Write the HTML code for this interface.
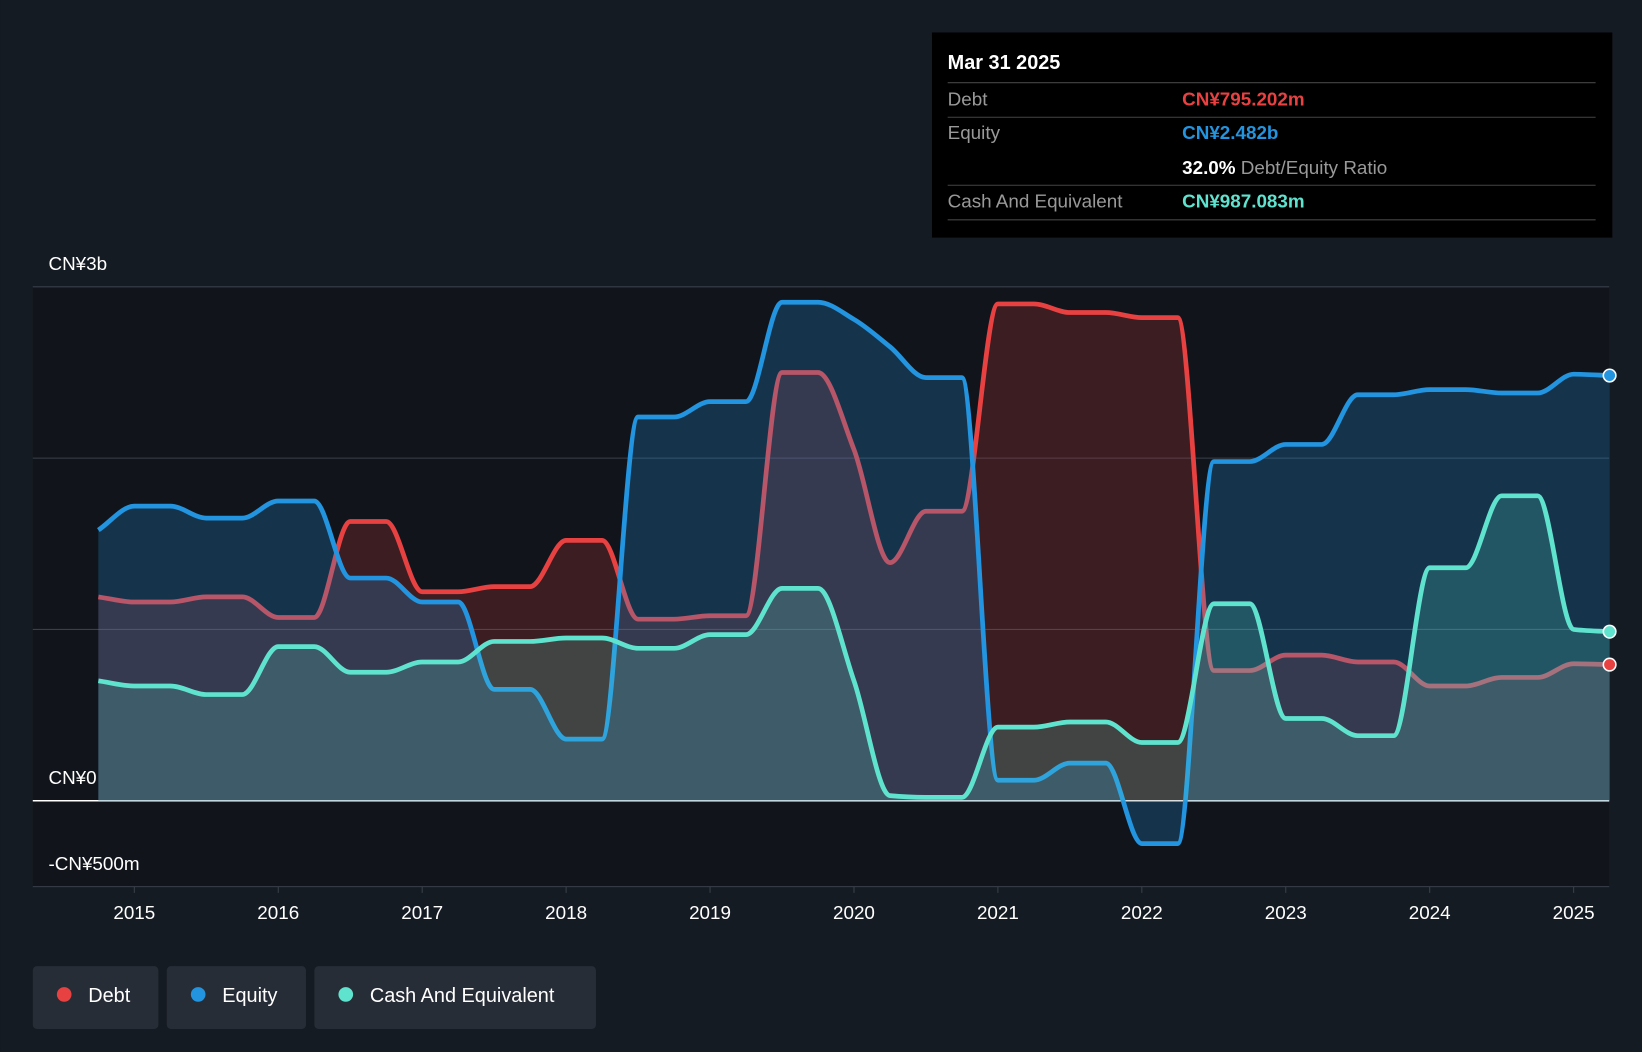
<!DOCTYPE html>
<html><head><meta charset="utf-8"><style>
html,body{margin:0;padding:0;background:#151b23;}
svg{display:block;font-family:"Liberation Sans",sans-serif;}
</style></head><body>
<svg id="chart" width="1642" height="1052" viewBox="0 0 1568 1005" xmlns="http://www.w3.org/2000/svg">
<rect x="0" y="0" width="1568" height="1005" fill="#151b23"/>
<rect x="31" y="274" width="1506" height="573" fill="#11151b"/>
<g id="grid"></g>
<g id="series"></g>
<g id="markers"></g>
<g id="xaxis"></g>
<text x="46" y="258" fill="#fff" font-size="18">CN¥3b</text>
<text x="46" y="749" fill="#fff" font-size="18">CN¥0</text>
<text x="46" y="831" fill="#fff" font-size="18">-CN¥500m</text>
<g>
<rect x="890" y="31" width="650" height="196" fill="#000"/>
<text x="905" y="66" fill="#fff" font-size="19" font-weight="bold">Mar 31 2025</text>
<line x1="905" y1="79" x2="1524" y2="79" stroke="#444"/>
<text x="905" y="101" fill="#999" font-size="18">Debt</text>
<text x="1129" y="101" fill="#e84142" font-size="18" font-weight="bold">CN¥795.202m</text>
<line x1="905" y1="112" x2="1524" y2="112" stroke="#444"/>
<text x="905" y="133" fill="#999" font-size="18">Equity</text>
<text x="1129" y="133" fill="#2394df" font-size="18" font-weight="bold">CN¥2.482b</text>
<text x="1129" y="166" fill="#fff" font-size="18" font-weight="bold">32.0% <tspan fill="#999" font-weight="normal">Debt/Equity Ratio</tspan></text>
<line x1="905" y1="177" x2="1524" y2="177" stroke="#444"/>
<text x="905" y="198" fill="#999" font-size="18">Cash And Equivalent</text>
<text x="1129" y="198" fill="#5fe3cf" font-size="18" font-weight="bold">CN¥987.083m</text>
<line x1="905" y1="210" x2="1524" y2="210" stroke="#444"/>
</g>
<g>
<g><rect x="31" y="923" width="120" height="60" rx="4" fill="#272d36"/><circle cx="61" cy="950" r="7" fill="#e84142"/><text x="84" y="957" fill="#fff" font-size="19">Debt</text></g>
<g><rect x="159" y="923" width="133" height="60" rx="4" fill="#272d36"/><circle cx="189" cy="950" r="7" fill="#2394df"/><text x="212" y="957" fill="#fff" font-size="19">Equity</text></g>
<g><rect x="300" y="923" width="269" height="60" rx="4" fill="#272d36"/><circle cx="330" cy="950" r="7" fill="#5fe3cf"/><text x="353" y="957" fill="#fff" font-size="19">Cash And Equivalent</text></g>
</g>
</svg>
<script>
const startYear = 2014.75;
const debt = [1.19,1.16,1.16,1.19,1.19,1.07,1.07,1.63,1.63,1.22,1.22,1.25,1.25,1.52,1.52,1.06,1.06,1.08,1.08,2.50,2.50,2.05,1.39,1.69,1.69,2.90,2.90,2.85,2.85,2.82,2.82,0.76,0.76,0.85,0.85,0.81,0.81,0.67,0.67,0.72,0.72,0.80,0.795];
const equity = [1.58,1.72,1.72,1.65,1.65,1.75,1.75,1.30,1.30,1.16,1.16,0.65,0.65,0.36,0.36,2.24,2.24,2.33,2.33,2.91,2.91,2.81,2.65,2.47,2.47,0.12,0.12,0.22,0.22,-0.25,-0.25,1.98,1.98,2.08,2.08,2.37,2.37,2.40,2.40,2.38,2.38,2.49,2.482];
const cash = [0.70,0.67,0.67,0.62,0.62,0.90,0.90,0.75,0.75,0.81,0.81,0.93,0.93,0.95,0.95,0.89,0.89,0.97,0.97,1.24,1.24,0.70,0.03,0.02,0.02,0.43,0.43,0.46,0.46,0.34,0.34,1.15,1.15,0.48,0.48,0.38,0.38,1.36,1.36,1.78,1.78,1.00,0.987];
const yearTicks = [2015,2016,2017,2018,2019,2020,2021,2022,2023,2024,2025];
const gridVals = [3,2,1];
const NS="http://www.w3.org/2000/svg";
function X(t){return 128+(t-2015)*137.5;}
function Y(v){return 765-v*163.67;}
function mk(tag,attrs,parent){const e=document.createElementNS(NS,tag);for(const k in attrs)e.setAttribute(k,attrs[k]);parent.appendChild(e);return e;}
const grid=document.getElementById('grid');
gridVals.forEach(v=>{const l=mk('line',{x1:31,x2:1537,y1:Y(v),y2:Y(v),stroke:'#39404a','stroke-width':1},grid);

});
const zl=mk('line',{x1:31,x2:1537,y1:Y(0),y2:Y(0),stroke:'#fff','stroke-width':1.5},grid);


const bl=mk('line',{x1:31,x2:1537,y1:847,y2:847,stroke:'#39404a'},grid);


const xa=document.getElementById('xaxis');
yearTicks.forEach(yr=>{mk('line',{x1:X(yr),x2:X(yr),y1:847,y2:853,stroke:'#39404a'},xa);
const t=mk('text',{x:X(yr),y:878,fill:'#fff','font-size':18,'text-anchor':'middle'},xa);t.textContent=yr;

});
function monoPath(pts){
  const n=pts.length,d=[],m=[];
  for(let i=0;i<n-1;i++)d.push((pts[i+1][1]-pts[i][1])/(pts[i+1][0]-pts[i][0]));
  for(let i=0;i<n;i++){
    if(i===0)m.push(d[0]);else if(i===n-1)m.push(d[n-2]);
    else m.push(d[i-1]*d[i]<=0?0:(2*d[i-1]*d[i])/(d[i-1]+d[i]));
  }
  let s='M'+pts[0][0]+','+pts[0][1];
  for(let i=0;i<n-1;i++){const h=(pts[i+1][0]-pts[i][0])/3;
    s+=' C'+(pts[i][0]+h)+','+(pts[i][1]+m[i]*h)+' '+(pts[i+1][0]-h)+','+(pts[i+1][1]-m[i+1]*h)+' '+pts[i+1][0]+','+pts[i+1][1];}
  return s;
}
const series=[
 {name:'debt',data:debt,color:'#e84142',fill:'rgba(232,65,66,0.2)'},
 {name:'equity',data:equity,color:'#2394df',fill:'rgba(35,148,223,0.25)'},
 {name:'cash',data:cash,color:'#5fe3cf',fill:'rgba(95,227,207,0.2)'}
];
const sg=document.getElementById('series'),mg=document.getElementById('markers');
series.forEach(s=>{
  const pts=s.data.map((v,i)=>[X(startYear+i*0.25),Y(v)]);
  const p=monoPath(pts);
  const x0=pts[0][0],x1=pts[pts.length-1][0];
  const a=mk('path',{d:p+' L'+x1+','+Y(0)+' L'+x0+','+Y(0)+' Z',fill:s.fill},sg);
  
  
  const l=mk('path',{d:p,fill:'none',stroke:s.color,'stroke-width':4.5},sg);
  
  
  const last=pts[pts.length-1];
  const c=mk('circle',{cx:last[0],cy:last[1],r:6,fill:s.color,stroke:'#fff','stroke-width':1.5},mg);
  
  
});
</script>
</body></html>
